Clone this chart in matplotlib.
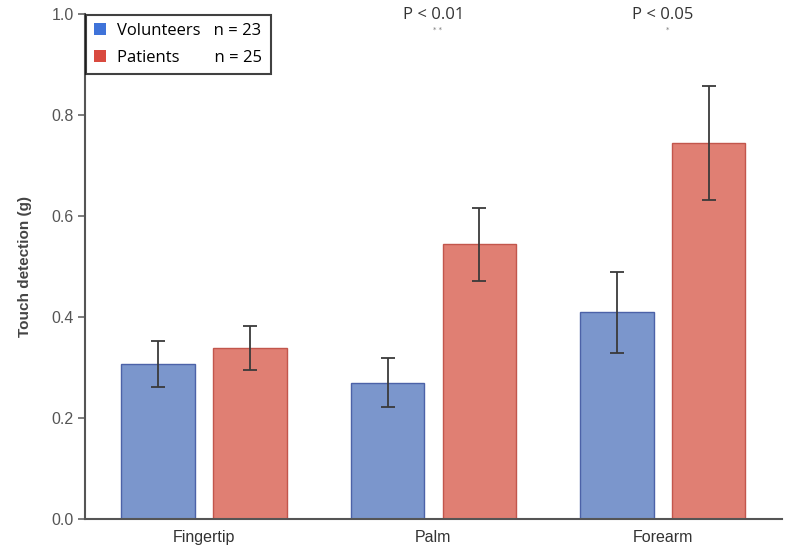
import matplotlib.pyplot as plt
import numpy as np
from matplotlib.patches import Patch
from matplotlib import font_manager as fm

sites = ["Fingertip", "Palm", "Forearm"]
volunteers = [0.307, 0.270, 0.409]
volunteers_err = [0.045, 0.049, 0.080]
patients = [0.339, 0.544, 0.745]
patients_err = [0.043, 0.072, 0.113]
p_labels = ["", "P < 0.01", "P < 0.05"]
star_labels = ["", "* *", "*"]

blue = "#7b96cc"
red = "#e07f73"


def pick_family(names):
    for name in names:
        try:
            fm.findfont(fm.FontProperties(family=name), fallback_to_default=False)
            return name
        except ValueError:
            continue
    return "DejaVu Sans"


narrow = pick_family(["Liberation Sans Narrow", "Liberation Sans"])

fig = plt.figure(figsize=(8, 5.49), dpi=100)
ax = fig.add_axes([0.106, 0.0546, 0.8715, 0.92])

x = np.arange(len(sites))
width = 0.32
err_kw = dict(ecolor="#3a3a3a", elinewidth=1.3, capsize=5, capthick=1.3)
ax.bar(x - 0.2, volunteers, width, yerr=volunteers_err, color=blue,
       edgecolor="#4c62a8", linewidth=1, error_kw=err_kw)
ax.bar(x + 0.2, patients, width, yerr=patients_err, color=red,
       edgecolor="#c2564c", linewidth=1, error_kw=err_kw)

ax.set_xlim(-0.52, 2.52)
ax.set_ylim(0, 1.0)
ticks = [0.0, 0.2, 0.4, 0.6, 0.8, 1.0]
ax.set_yticks(ticks)
ax.set_yticklabels([f"{v:.1f}" for v in ticks], family=narrow,
                   fontsize=11.5, color="#555555")
ax.set_xticks(x)
ax.set_xticklabels(sites, family=narrow, fontsize=11.5, color="#333333")
ax.tick_params(axis="x", length=0, pad=8)
ax.tick_params(axis="y", length=5, width=1.2, color="#666666", pad=3)

for side in ["top", "right"]:
    ax.spines[side].set_visible(False)
for side in ["left", "bottom"]:
    ax.spines[side].set_color("#555555")
    ax.spines[side].set_linewidth(1.5)

ax.set_ylabel("Touch detection (g)", fontsize=11, fontweight="bold",
              family="Liberation Sans", color="#444444", labelpad=14)

for i in range(len(sites)):
    if p_labels[i]:
        ax.text(x[i], 0.998, p_labels[i], ha="center", va="center",
                fontsize=12, color="#333333", family="Open Sans")
        ax.text(x[i] + 0.02, 0.968, star_labels[i], ha="center", va="center",
                fontsize=5, color="#777777")

handles = [Patch(facecolor="#3f73d9", edgecolor="none"),
           Patch(facecolor="#d94a3f", edgecolor="none")]
labels = ["Volunteers   n = 23", "Patients        n = 25"]
leg = ax.legend(handles, labels, loc="upper left", bbox_to_anchor=(0.0, 1.0),
                borderaxespad=0.05, frameon=True, fancybox=False,
                handlelength=0.7, handleheight=0.7, handletextpad=0.7,
                borderpad=0.5, labelspacing=0.65,
                prop={"family": "Open Sans", "size": 12})
leg.get_frame().set_edgecolor("#111111")
leg.get_frame().set_linewidth(1.5)

fig.savefig("out.png", dpi=100)
